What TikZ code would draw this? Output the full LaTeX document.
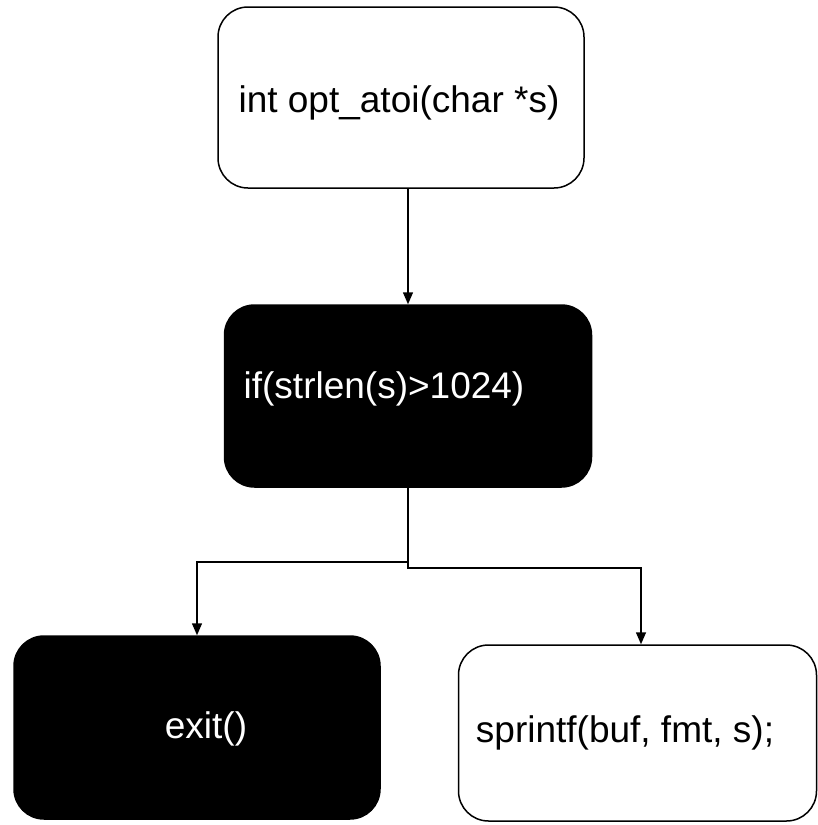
\documentclass[tikz,border=0pt]{standalone}
\usepackage{fontspec}
\setmainfont{Liberation Sans}
\usetikzlibrary{arrows.meta,calc}
\begin{document}
\begin{tikzpicture}[x=1pt,y=-1pt,
  boxw/.style={draw=black,line width=1.5pt,rounded corners=30pt,fill=white,inner sep=0pt},
  boxb/.style={draw=black,line width=1.5pt,rounded corners=30pt,fill=black,inner sep=0pt},
  lbl/.style={anchor=base,inner sep=0pt,font=\fontsize{37}{44}\selectfont},
  arr/.style={line width=1.5pt,-{Triangle[length=12pt,width=10pt]}}]
\useasboundingbox (0,0) rectangle (817,825);
\node[boxw,minimum width=366pt,minimum height=181pt] (b1) at (401,97.5) {};
\node[boxb,minimum width=367pt,minimum height=182pt] (b2) at (408,396) {};
\node[boxb,minimum width=366pt,minimum height=183pt] (ex) at (197,727.5) {};
\node[boxw,minimum width=358pt,minimum height=176pt] (sp) at (637.5,733) {};
\node[lbl] (t1) at (399,112) {int opt\_atoi(char *s)};
\node[lbl,text=white] (t2) at (384,398) {if(strlen(s)>1024)};
\node[lbl,text=white] (t3) at (206,738) {exit()};
\node[lbl] (t4) at (625,742) {sprintf(buf, fmt, s);};
\draw[arr] (b1.south -| b2.north) -- (b2.north);
\draw[arr] (b2.south) -- (b2.south |- 0,562) -| (ex.north);
\draw[arr] (b2.south) -- (b2.south |- 0,568) -| ([xshift=3.5pt]sp.north);
\end{tikzpicture}
\end{document}
